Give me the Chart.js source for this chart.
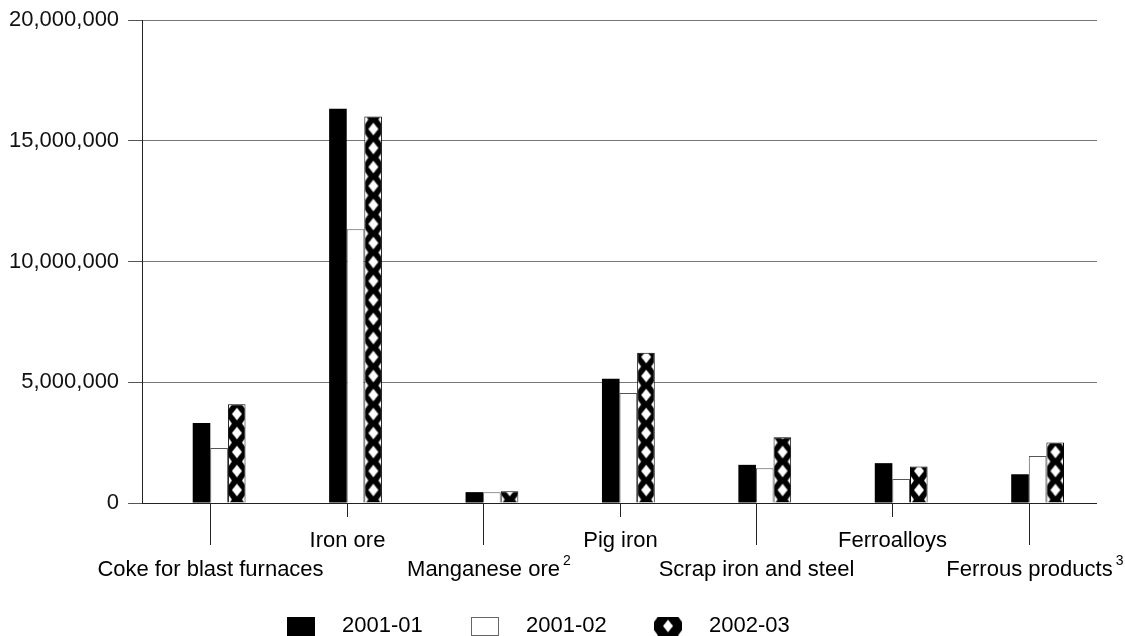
<!DOCTYPE html>
<html>
<head>
<meta charset="utf-8">
<title>Iron and steel</title>
<script src="https://cdn.jsdelivr.net/npm/chart.js@4.4.1/dist/chart.umd.min.js"></script>
<style>
  html, body { margin: 0; padding: 0; background: #fff; }
  #wrap { width: 1125px; height: 636px; }
</style>
</head>
<body>
<div id="wrap"><canvas id="bar-chart"></canvas></div>
<script>
'use strict';

// categories on the x axis, and the footnote marks written after some of them
var categories = ['Coke for blast furnaces', 'Iron ore', 'Manganese ore', 'Pig iron',
                  'Scrap iron and steel', 'Ferroalloys', 'Ferrous products'];
var footnotes = ['', '', '2', '', '', '', '3'];

// series
var years = ['2001-01', '2001-02', '2002-03'];
var values0101 = [3310000, 16330000, 450000, 5150000, 1580000, 1650000, 1190000];
var values0102 = [2280000, 11340000, 450000, 4550000, 1440000, 990000, 1950000];
var values0203 = [4090000, 16000000, 490000, 6220000, 2720000, 1510000, 2510000];

// y axis ticks
var yTicks = [0, 5000000, 10000000, 15000000, 20000000];

var FONT = '"Liberation Sans", Arial, Helvetica, sans-serif';
var CAT_PCT = 0.516;   // 4 slots per group (first one left empty, like the source)
var TILE_H = 19;

// black tile with white diamonds
function diamondTile(w, h) {
    var c = document.createElement('canvas');
    c.width = Math.max(w, 4);
    c.height = h;
    w = c.width;
    var g = c.getContext('2d');
    g.fillStyle = '#000';
    g.fillRect(0, 0, w, h);
    g.fillStyle = '#fff';
    function diamond(cx, cy, rx, ry) {
        g.beginPath();
        g.moveTo(cx, cy - ry);
        g.lineTo(cx + rx, cy);
        g.lineTo(cx, cy + ry);
        g.lineTo(cx - rx, cy);
        g.closePath();
        g.fill();
    }
    diamond(w / 2, h / 2, 5, 6.2);
    [[0, 0], [w, 0], [0, h], [w, h]].forEach(function (p) {
        diamond(p[0], p[1], 4, 5.5);
    });
    return c;
}

function slotWidth(chart) {
    var xs = chart.scales.x;
    return xs.width / categories.length * CAT_PCT / 4;
}

function makeHatch(chart, w, left, base) {
    var p = chart.ctx.createPattern(diamondTile(Math.round(w), TILE_H), 'repeat');
    p.setTransform(new DOMMatrix().translate(left || 0, (base || 0) - 13 - TILE_H / 2));
    return p;
}

// fill for the 2002-03 bars, lined up with each bar
function hatchFill(ctx) {
    var chart = ctx.chart;
    var xs = chart.scales && chart.scales.x;
    if (!xs || !xs.width || ctx.type !== 'data') {
        return makeHatch(chart, 18, 0, 0);
    }
    var w = slotWidth(chart);
    var left = xs.getPixelForValue(ctx.dataIndex) + w;
    return makeHatch(chart, w, left, chart.scales.y.getPixelForValue(0));
}

// staggered category labels with leader lines, plus the legend row
var labelsAndLegend = {
    id: 'labelsAndLegend',
    afterDraw: function (chart) {
        var g = chart.ctx,
            xs = chart.scales.x,
            area = chart.chartArea;
        g.save();
        g.strokeStyle = '#222';
        g.lineWidth = 1;
        g.fillStyle = '#000';
        g.textBaseline = 'alphabetic';

        categories.forEach(function (name, i) {
            var x = Math.round(xs.getPixelForValue(i)) + 0.5,
                low = i % 2 === 0,
                y = area.bottom + (low ? 73 : 44);
            g.beginPath();
            g.moveTo(x, area.bottom);
            g.lineTo(x, area.bottom + (low ? 42 : 14));
            g.stroke();

            g.font = '22px ' + FONT;
            g.textAlign = 'center';
            g.fillText(name, x, y);
            if (footnotes[i]) {
                var half = g.measureText(name).width / 2;
                g.font = '14px ' + FONT;
                g.textAlign = 'left';
                g.fillText(footnotes[i], x + half + 3, y - 11);
            }
        });

        // legend
        var boxW = 28, boxH = 19, gapText = 27, gapItem = 48, boxTop = 617, textY = 632;
        g.font = '22px ' + FONT;
        g.textAlign = 'left';
        var widths = years.map(function (t) { return boxW + gapText + g.measureText(t).width + gapItem; });
        var total = widths.reduce(function (a, b) { return a + b; }, 0);
        var x0 = chart.width / 2 - total / 2;
        years.forEach(function (t, i) {
            var bx = Math.round(x0);
            if (i === 0) {
                g.fillStyle = '#000';
                g.fillRect(bx, boxTop, boxW, boxH);
            } else if (i === 1) {
                g.fillStyle = '#fff';
                g.fillRect(bx, boxTop, boxW, boxH);
                g.strokeStyle = '#666';
                g.strokeRect(bx + 0.5, boxTop + 0.5, boxW - 1, boxH - 1);
            } else {
                g.fillStyle = makeHatch(chart, boxW, bx, boxTop + boxH + 3);
                g.fillRect(bx, boxTop, boxW, boxH);
            }
            g.fillStyle = '#000';
            g.fillText(t, bx + boxW + gapText, textY);
            x0 += widths[i];
        });
        g.restore();
    }
};

new Chart(document.getElementById('bar-chart'), {
    type: 'bar',
    data: {
        labels: categories,
        datasets: [{
            // empty slot, keeps each group to the right of its label line
            label: '',
            data: [],
            backgroundColor: 'rgba(0,0,0,0)'
        }, {
            label: years[0],
            data: values0101,
            backgroundColor: '#000',
            borderWidth: 0
        }, {
            label: years[1],
            data: values0102,
            backgroundColor: '#fff',
            borderColor: '#555',
            borderWidth: 1
        }, {
            label: years[2],
            data: values0203,
            backgroundColor: hatchFill,
            borderColor: '#000',
            borderWidth: 1
        }]
    },
    options: {
        responsive: true,
        maintainAspectRatio: false,
        animation: false,
        layout: {
            padding: { left: 0, right: 28, top: -3, bottom: 133 }
        },
        datasets: {
            bar: { categoryPercentage: CAT_PCT, barPercentage: 1 }
        },
        plugins: {
            legend: { display: false },
            tooltip: { enabled: false }
        },
        scales: {
            x: { display: false },
            y: {
                min: yTicks[0],
                max: yTicks[yTicks.length - 1],
                afterBuildTicks: function (scale) {
                    scale.ticks = yTicks.map(function (v) { return { value: v }; });
                },
                border: { display: true, color: '#222', width: 1 },
                grid: {
                    color: function (c) { return c.tick && c.tick.value === 0 ? '#222' : '#777'; },
                    lineWidth: 1,
                    tickLength: 14,
                    tickColor: '#555'
                },
                ticks: {
                    padding: 9,
                    color: '#111',
                    font: { family: FONT, size: 22, lineHeight: 1 },
                    callback: function (v) { return v.toLocaleString('en-US'); }
                }
            }
        }
    },
    plugins: [labelsAndLegend]
});
</script>
</body>
</html>
